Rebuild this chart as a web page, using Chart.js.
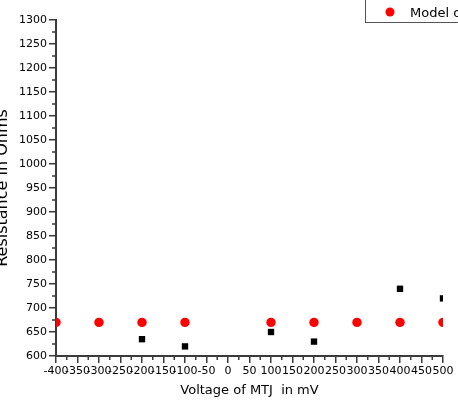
<!DOCTYPE html>
<html lang="en">
<head>
    <meta charset="UTF-8">
    <title>Resistance vs voltage</title>
    <script src="https://cdn.jsdelivr.net/npm/chart.js"></script>
    <style>
        html, body { margin: 0; padding: 0; background: #fff; overflow: hidden; }
        canvas { display: block; }
    </style>
</head>
<body>
    <canvas id="chart1" width="458" height="406"></canvas>

    <script>
        // model values (red circles)
        const modelVoltage = [-400, -300, -200, -100, 100, 200, 300, 400, 500];
        const modelResistance = [670, 670, 670, 670, 670, 670, 670, 670, 670];

        // measured values (black squares)
        const measVoltage = [-200, -100, 100, 200, 300, 400, 500];
        const measResistance = [635, 620, 650, 630, 670, 740, 720];

        const legendText = "Model of MTJ";
        const xTitle = "Voltage of MTJ  in mV";
        const yTitle = "Resistance in Ohms";

        const axisColor = "#3a3a3a";
        const tickFont = { family: "DejaVu Sans", size: 11 };

        function toPoints(xs, ys) {
            return xs.map((x, i) => ({ x: x, y: ys[i] }));
        }

        // short ticks half way between the labelled ones
        const minorTicks = {
            id: "minorTicks",
            afterDraw(chart) {
                const ctx = chart.ctx;
                const xs = chart.scales.x, ys = chart.scales.y;
                ctx.save();
                ctx.strokeStyle = axisColor;
                ctx.lineWidth = 1.5;
                ctx.beginPath();
                for (let v = -375; v < 500; v += 50) {
                    const px = xs.getPixelForValue(v);
                    ctx.moveTo(px, ys.bottom);
                    ctx.lineTo(px, ys.bottom + 4);
                }
                for (let v = 625; v < 1300; v += 50) {
                    const py = ys.getPixelForValue(v);
                    ctx.moveTo(xs.left, py);
                    ctx.lineTo(xs.left - 4, py);
                }
                ctx.stroke();
                ctx.restore();
            }
        };

        // legend box, partly cut off at the top right like the source
        const legendBox = {
            id: "legendBox",
            afterDraw(chart) {
                const ctx = chart.ctx;
                ctx.save();
                ctx.strokeStyle = "#555";
                ctx.lineWidth = 1;
                ctx.strokeRect(365.5, -10, 140, 32.5);
                ctx.fillStyle = "#ff0000";
                ctx.beginPath();
                ctx.arc(390, 12, 4.5, 0, Math.PI * 2);
                ctx.fill();
                ctx.fillStyle = "#000";
                ctx.font = "13px 'DejaVu Sans'";
                ctx.textBaseline = "alphabetic";
                ctx.fillText(legendText, 410, 17);
                ctx.restore();
            }
        };

        new Chart(document.getElementById("chart1"), {
            type: "scatter",
            data: {
                datasets: [{
                    label: legendText,
                    data: toPoints(modelVoltage, modelResistance),
                    backgroundColor: "#ff0000",
                    borderColor: "#ff0000",
                    pointStyle: "circle",
                    pointRadius: 4.7,
                    borderWidth: 0
                }, {
                    label: "Measured",
                    data: toPoints(measVoltage, measResistance),
                    backgroundColor: "#000",
                    borderColor: "#000",
                    pointStyle: "rect",
                    pointRadius: 4.5,
                    borderWidth: 0
                }]
            },
            options: {
                responsive: false,
                animation: false,
                layout: { padding: { top: 20, right: 15, left: 0, bottom: 8 } },
                plugins: {
                    legend: { display: false },
                    tooltip: { enabled: false }
                },
                scales: {
                    x: {
                        type: "linear",
                        min: -400,
                        max: 500,
                        afterFit: s => { s.height = 42; },
                        ticks: {
                            stepSize: 50,
                            autoSkip: false,
                            maxRotation: 0,
                            minRotation: 0,
                            padding: 2,
                            color: "#000",
                            font: tickFont,
                            callback: v => String(v)
                        },
                        grid: {
                            drawOnChartArea: false,
                            tickLength: 7,
                            color: axisColor,
                            lineWidth: 1.5
                        },
                        border: { color: axisColor, width: 2 },
                        title: {
                            display: true,
                            text: xTitle,
                            color: "#000",
                            font: { family: "DejaVu Sans", size: 13 },
                            padding: { top: 0, bottom: 0 }
                        }
                    },
                    y: {
                        type: "linear",
                        min: 600,
                        max: 1300,
                        afterFit: s => { s.width = 56; },
                        ticks: {
                            stepSize: 50,
                            autoSkip: false,
                            padding: 2,
                            color: "#000",
                            font: tickFont,
                            callback: v => String(v)
                        },
                        grid: {
                            drawOnChartArea: false,
                            tickLength: 7,
                            color: axisColor,
                            lineWidth: 1.5
                        },
                        border: { color: axisColor, width: 2 },
                        title: {
                            display: true,
                            text: yTitle,
                            color: "#000",
                            font: { family: "DejaVu Sans", size: 16, lineHeight: 1 },
                            padding: { top: -5, bottom: 0 }
                        }
                    }
                }
            },
            plugins: [minorTicks, legendBox]
        });
    </script>
</body>
</html>
